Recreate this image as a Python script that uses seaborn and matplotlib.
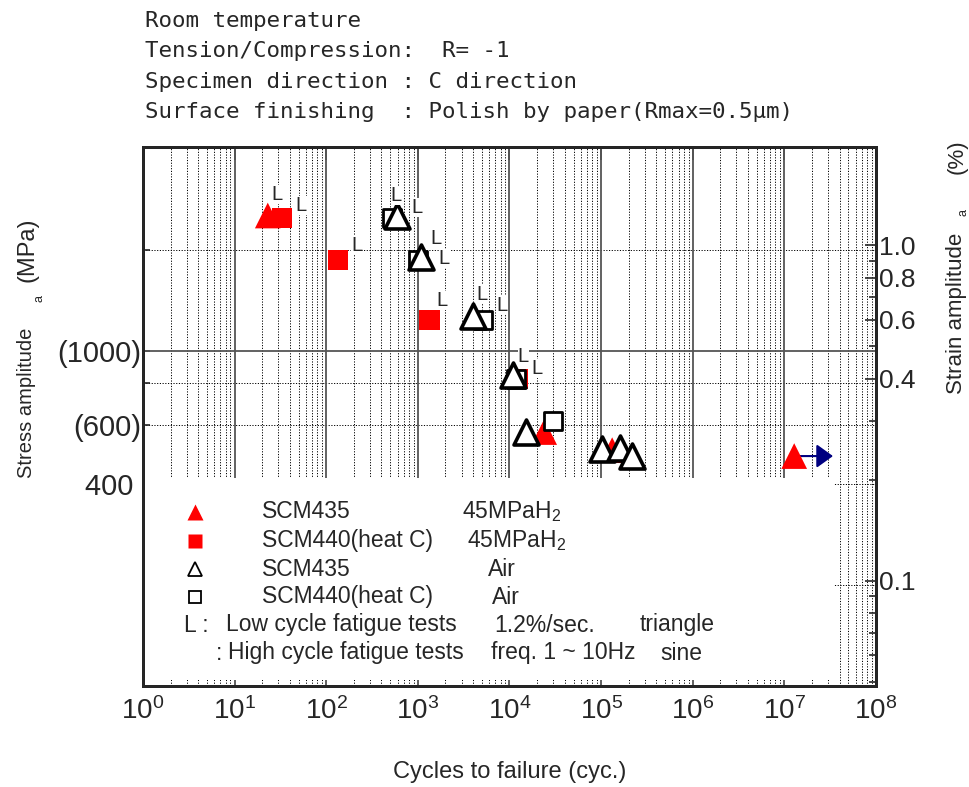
import numpy as np
import pandas as pd
import matplotlib
matplotlib.use("Agg")
import matplotlib.pyplot as plt
import seaborn as sns
from matplotlib.patches import Rectangle
from matplotlib.ticker import FixedLocator, FixedFormatter, NullFormatter, LogLocator

# ---------------- data ----------------
scm435_h2_cycles = [23, 2.39e4, 1.32e5, 1.28e7]
scm435_h2_stress = [2530, 572, 505, 485]
scm435_h2_low = [True, False, False, False]
scm435_h2_runout = [False, False, False, True]

scm440_h2_cycles = [33, 134, 1340, 1.24e4]
scm440_h2_stress = [2485, 1860, 1238, 824]
scm440_h2_low = [True, True, True, True]

scm435_air_cycles = [593, 1083, 4000, 1.095e4, 1.52e4, 1.03e5, 1.61e5, 2.18e5]
scm435_air_stress = [2519, 1898, 1268, 848, 572, 509, 512, 485]
scm435_air_low = [True, True, True, True, False, False, False, False]

scm440_air_cycles = [523, 1005, 5150, 1.18e4, 2.96e4]
scm440_air_stress = [2490, 1860, 1238, 824, 617]
scm440_air_low = [True, True, True, False, False]

young_modulus_mpa = 206000.0  # strain (%) = stress / E * 100

x_decades = list(range(0, 9))
left_ticks = [200, 400, 600, 800, 1000, 2000]
left_labels = ["", "400 ", "(600)", "", "(1000)", ""]
right_major = [0.1, 0.4, 0.6, 0.8, 1.0]
right_labels = ["0.1", "0.4", "0.6", "0.8", "1.0"]
right_minor = [0.05, 0.06, 0.07, 0.08, 0.09, 0.2, 0.3, 0.5, 0.7, 0.9]

header_lines = [
    "Room temperature",
    "Tension/Compression:  R= -1",
    "Specimen direction : C direction",
    "Surface finishing  : Polish by paper(Rmax=0.5\u03bcm)",
]

# L-label offsets (pixels) for each low-cycle point, per series (layout only)
L_off = {
    "t_h2": [(9, 21)],
    "s_h2": [(19, 13), (19, 15), (12, 19), (19, 10)],
    "t_air": [(-1, 21), (15, 19), (9, 22), (10, 18)],
    "s_air": [(25, 10), (26, 2), (19, 14)],
}

# ---------------- figure ----------------
sns.set_style("white")
plt.rcParams["font.family"] = ["Liberation Sans", "DejaVu Sans"]
plt.rcParams["mathtext.fontset"] = "custom"
plt.rcParams["mathtext.rm"] = "Liberation Sans"

fig = plt.figure(figsize=(9.7, 7.87), dpi=100)
L, R, B, T = 143 / 970, 876 / 970, 1 - 686 / 787, 1 - 147 / 787
ax = fig.add_axes([L, B, R - L, T - B])
ax.set_xscale("log")
ax.set_yscale("log")
ax.set_xlim(10 ** x_decades[0], 10 ** x_decades[-1])
ax.set_ylim(100, 4050)

# grid lines (manual so the legend box can hide them)
for k in x_decades[1:-1]:
    ax.axvline(10.0 ** k, color="#555555", lw=1.3, zorder=0.6)
for k in x_decades[:-1]:
    for m in range(2, 10):
        ax.axvline(m * 10.0 ** k, color="black", lw=0.7, ls=(0, (1.2, 1.6)), zorder=0.5)
for v in left_ticks:
    if v == 1000:
        ax.axhline(v, color="#555555", lw=1.3, zorder=0.6)
    else:
        ax.axhline(v, color="black", lw=0.7, ls=(0, (1.2, 1.6)), zorder=0.5)

# legend box (white, no border)
ax.add_patch(Rectangle((0.0, 0.011), 0.943, 0.375, transform=ax.transAxes,
                       facecolor="white", edgecolor="none", zorder=1))

# ---------------- data marks ----------------
df_s_h2 = pd.DataFrame({"N": scm440_h2_cycles, "S": scm440_h2_stress})
df_t_h2 = pd.DataFrame({"N": scm435_h2_cycles, "S": scm435_h2_stress})
df_s_air = pd.DataFrame({"N": scm440_air_cycles, "S": scm440_air_stress})
df_t_air = pd.DataFrame({"N": scm435_air_cycles, "S": scm435_air_stress})

sns.scatterplot(data=df_s_h2, x="N", y="S", marker="s", s=14.5 ** 2, color="red",
                edgecolor="none", ax=ax, zorder=3, legend=False)
sns.scatterplot(data=df_t_h2, x="N", y="S", marker="^", s=18.5 ** 2, color="red",
                edgecolor="none", ax=ax, zorder=3.1, legend=False)
sns.scatterplot(data=df_s_air, x="N", y="S", marker="s", s=13.5 ** 2, color="white",
                edgecolor="black", linewidth=2.0, ax=ax, zorder=3.2, legend=False)
sns.scatterplot(data=df_t_air, x="N", y="S", marker="^", s=18 ** 2, color="white",
                edgecolor="black", linewidth=2.6, ax=ax, zorder=3.3, legend=False)

# run-out arrow
for n, s, ro in zip(scm435_h2_cycles, scm435_h2_stress, scm435_h2_runout):
    if ro:
        ax.annotate("", xy=(n * 2.65, s), xytext=(n, s),
                    arrowprops=dict(arrowstyle="-|>,head_length=0.5,head_width=0.36",
                                    color="#000080", lw=1.5, shrinkA=0, shrinkB=0,
                                    mutation_scale=20), zorder=2.9)

# "L" labels for low-cycle fatigue tests (higher labels drawn in front)
def put_L(cycles, stress, low, offs):
    it = iter(offs)
    for n, s, lo in zip(cycles, stress, low):
        if lo:
            dx, dy = next(it)
            ax.annotate("L", xy=(n, s), xytext=(dx, dy), textcoords="offset pixels",
                        ha="center", va="center", fontsize=14.5, zorder=4 + dy / 100,
                        bbox=dict(facecolor="white", edgecolor="none", pad=0.0))

put_L(scm435_h2_cycles, scm435_h2_stress, scm435_h2_low, L_off["t_h2"])
put_L(scm440_h2_cycles, scm440_h2_stress, scm440_h2_low, L_off["s_h2"])
put_L(scm435_air_cycles, scm435_air_stress, scm435_air_low, L_off["t_air"])
put_L(scm440_air_cycles, scm440_air_stress, scm440_air_low, L_off["s_air"])

# ---------------- axes styling ----------------
ax.xaxis.set_major_locator(FixedLocator([10.0 ** k for k in x_decades]))
ax.xaxis.set_major_formatter(FixedFormatter([r"$\mathregular{10^{%d}}$" % k for k in x_decades]))
ax.xaxis.set_minor_locator(LogLocator(base=10, subs=np.arange(2, 10)))
ax.xaxis.set_minor_formatter(NullFormatter())
ax.yaxis.set_major_locator(FixedLocator(left_ticks))
ax.yaxis.set_major_formatter(FixedFormatter(left_labels))
ax.yaxis.set_minor_locator(FixedLocator([]))
ax.tick_params(axis="x", which="major", direction="in", top=True, length=9, width=1.2,
               labelsize=20, pad=8)
ax.tick_params(axis="x", which="minor", direction="in", top=True, length=5, width=1.0)
ax.tick_params(axis="y", which="major", direction="in", right=False, length=5, width=1.2,
               labelsize=21, pad=1)
for sp in ax.spines.values():
    sp.set_linewidth(2.0)
    sp.set_color("black")
ax.set_xlabel("")
ax.set_ylabel("")

ax2 = ax.twinx()
ax2.set_yscale("log")
lo, hi = ax.get_ylim()
ax2.set_ylim(lo / young_modulus_mpa * 100, hi / young_modulus_mpa * 100)
ax2.yaxis.set_major_locator(FixedLocator(right_major))
ax2.yaxis.set_major_formatter(FixedFormatter(right_labels))
ax2.yaxis.set_minor_locator(FixedLocator(right_minor))
ax2.yaxis.set_minor_formatter(NullFormatter())
ax2.tick_params(axis="y", which="major", direction="in", length=8, width=1.2,
                labelsize=19, pad=2)
ax2.tick_params(axis="y", which="minor", direction="in", length=5, width=1.2)
for sp in ax2.spines.values():
    sp.set_linewidth(2.0)

# ---------------- axis titles ----------------
fig.text((143 + 876) / 2 / 970, 1 - 772 / 787, "Cycles to failure (cyc.)",
         ha="center", va="center", fontsize=17)
fig.text(27 / 970, 1 - 403 / 787, "Stress amplitude", rotation=90,
         ha="center", va="center", fontsize=14.5)
fig.text(40 / 970, 1 - 298 / 787, "a", rotation=90, ha="center", va="center", fontsize=9)
fig.text(27 / 970, 1 - 250 / 787, "(MPa)", rotation=90, ha="center", va="center", fontsize=17)
fig.text(957 / 970, 1 - 313 / 787, "Strain amplitude", rotation=90,
         ha="center", va="center", fontsize=16)
fig.text(964 / 970, 1 - 213 / 787, "a", rotation=90, ha="center", va="center", fontsize=9)
fig.text(957 / 970, 1 - 157 / 787, "(%)", rotation=90, ha="center", va="center", fontsize=16)

# header
for i, line in enumerate(header_lines):
    fig.text(145 / 970, 1 - (21 + 30.3 * i) / 787, line, ha="left", va="center",
             fontsize=16.2, family="DejaVu Sans Mono")

# ---------------- legend (manual) ----------------
def axfx(px):
    return (px - 143) / 733

def axfy(py):
    return (686 - py) / 539

rows_y = [512, 541, 569, 597]
ax.plot([axfx(195)], [axfy(rows_y[0])], marker="^", ms=12, color="red", mec="none",
        transform=ax.transAxes, zorder=5, clip_on=False)
ax.plot([axfx(195)], [axfy(rows_y[1])], marker="s", ms=9.5, color="red", mec="none",
        transform=ax.transAxes, zorder=5, clip_on=False)
ax.plot([axfx(195)], [axfy(rows_y[2])], marker="^", ms=10, mfc="white", mec="black",
        mew=1.3, transform=ax.transAxes, zorder=5, clip_on=False)
ax.plot([axfx(195)], [axfy(rows_y[3])], marker="s", ms=8.5, mfc="white", mec="black",
        mew=1.3, transform=ax.transAxes, zorder=5, clip_on=False)

names = ["SCM435", "SCM440(heat C)", "SCM435", "SCM440(heat C)"]
envs = [r"45MPaH$\mathregular{_2}$", r"45MPaH$\mathregular{_2}$", "Air", "Air"]
env_x = [462, 467, 488, 492]
for y, nm, ev, ex in zip(rows_y, names, envs, env_x):
    ax.text(axfx(262), axfy(y), nm, transform=ax.transAxes, ha="left", va="center",
            fontsize=16.5, zorder=5)
    ax.text(axfx(ex), axfy(y), ev, transform=ax.transAxes, ha="left", va="center",
            fontsize=16.5, zorder=5)

for x, s in [(184, "L :"), (226, "Low cycle fatigue tests"), (494, "1.2%/sec."),
             (640, "triangle")]:
    ax.text(axfx(x), axfy(625), s, transform=ax.transAxes, ha="left", va="center",
            fontsize=16.5, zorder=5)
for x, s in [(216, ":"), (228, "High cycle fatigue tests"), (491, "freq. 1 ~ 10Hz"),
             (660, "sine")]:
    ax.text(axfx(x), axfy(653), s, transform=ax.transAxes, ha="left", va="center",
            fontsize=16.5, zorder=5)

fig.savefig("out.png", dpi=100)
